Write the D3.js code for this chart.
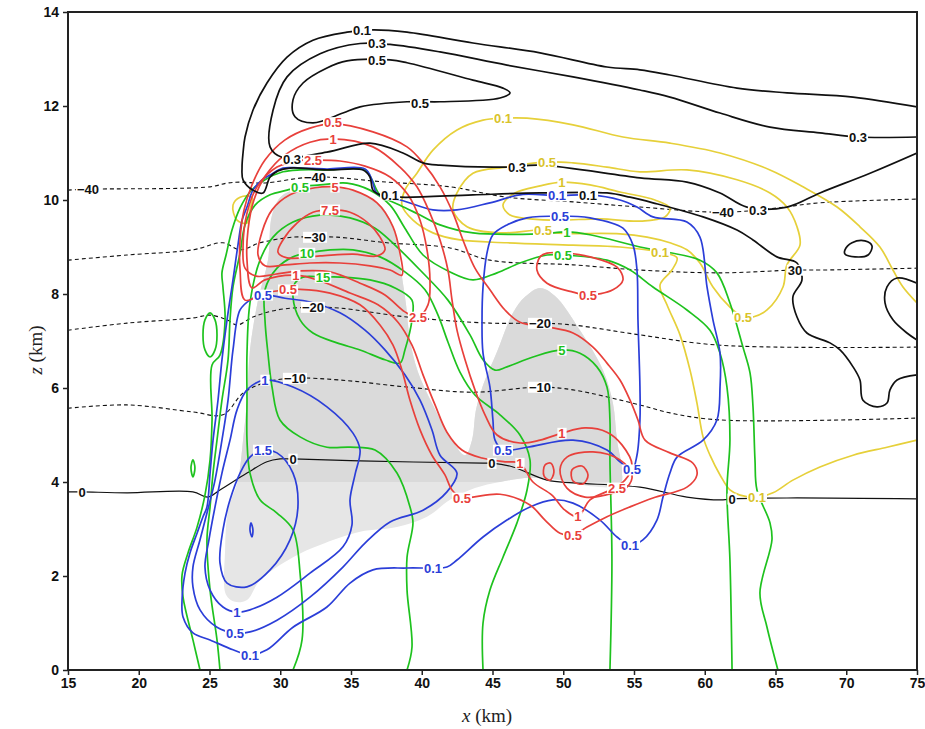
<!DOCTYPE html>
<html>
<head>
<meta charset="utf-8">
<script src="https://cdn.jsdelivr.net/npm/d3@7"></script>
<style>
  body { margin: 0; background: #fff; }
  svg { display: block; }
  .tick text { font-family: "Liberation Sans", Arial, sans-serif; font-weight: bold; font-size: 14px; fill: #111; }
</style>
</head>
<body>
<div id="chart"></div>
<script>
// axis ticks
const xTicks = [15, 20, 25, 30, 35, 40, 45, 50, 55, 60, 65, 70, 75];
const zTicks = [0, 2, 4, 6, 8, 10, 12, 14];

// shaded area (x km, z km)
const shade = [[29.42,9.68],[30.12,10.09],[31.75,10.26],[33.87,10.26],[35.78,10.13],[37.19,9.85],[38.11,9.32],[38.53,8.51],[38.89,7.77],[39.17,7.02],[39.73,6.34],[40.72,5.68],[42.0,4.96],[43.06,4.57],[43.55,4.89],[43.83,5.53],[44.33,6.06],[45.32,6.77],[46.45,7.6],[47.3,7.94],[48.36,8.13],[49.42,7.96],[51.18,7.23],[52.81,6.38],[53.51,5.68],[53.8,4.89],[54.15,4.26],[54.01,3.94],[51.89,3.91],[49.77,4.04],[47.65,4.09],[45.53,4.0],[43.76,3.87],[42.0,3.62],[40.37,3.26],[38.25,3.04],[35.64,2.94],[32.81,2.66],[30.9,2.4],[28.57,1.91],[27.65,1.49],[26.8,1.45],[26.17,1.6],[26.1,2.55],[26.31,3.4],[27.01,4.04],[27.37,4.89],[27.65,5.74],[27.86,6.81],[28.43,7.87],[29.13,8.72]];

// black solid contours
const black01 = [[75.0,11.98],[70.48,12.19],[65.81,12.28],[62.28,12.38],[57.54,12.66],[55.42,12.77],[53.09,12.83],[48.36,13.13],[43.62,13.34],[38.96,13.57],[36.55,13.62],[34.72,13.57],[32.31,13.4],[30.48,13.04],[29.06,12.49],[28.07,11.91],[27.51,11.34],[27.37,11.0],[27.3,10.7],[27.37,10.43],[28.07,10.21],[28.78,10.15],[29.28,10.49],[29.84,10.62],[30.69,10.68],[33.3,10.64],[35.85,10.64],[36.34,10.49],[36.55,10.21],[37.05,10.11],[38.46,10.06],[43.62,10.11],[48.36,10.15],[53.09,10.15],[54.72,10.06],[56.34,9.94],[59.88,9.64],[62.28,9.36],[63.41,9.15],[65.1,8.79],[66.52,8.66],[66.87,8.3],[66.23,7.94],[66.52,7.51],[67.22,7.17],[68.85,6.96],[69.56,6.81],[70.48,6.45],[70.97,6.17],[71.18,5.74],[72.17,5.6],[72.88,5.68],[73.09,5.96],[73.59,6.17],[75.0,6.28]];
const black03 = [[75.0,11.34],[70.83,11.34],[68.14,11.43],[64.61,11.55],[61.08,11.85],[57.54,12.19],[55.42,12.34],[50.69,12.62],[46.02,12.87],[41.29,13.15],[37.76,13.31],[35.64,13.33],[32.81,13.11],[30.48,12.62],[29.49,11.91],[29.28,11.13],[30.12,10.91],[33.3,11.02],[36.34,11.21],[38.67,11.0],[40.09,10.79],[41.29,10.74],[46.02,10.7],[48.36,10.74],[55.42,10.47],[58.74,10.38],[61.08,10.15],[62.98,9.85],[65.81,9.85],[68.14,10.15],[71.68,10.57],[75.0,11.0]];
const black05 = [[34.72,12.96],[37.76,12.98],[38.96,12.92],[43.62,12.55],[45.74,12.38],[46.24,12.28],[45.53,12.17],[41.29,12.09],[38.96,12.09],[35.64,11.98],[34.43,11.85],[32.31,11.64],[31.04,11.77],[30.9,12.13],[31.61,12.49],[33.3,12.81]];
const blackIsle = [[69.91,8.94],[70.41,9.09],[71.32,9.13],[71.82,9.02],[71.54,8.83],[70.62,8.79],[69.91,8.85]];
const blackEdge = [[75.0,8.23],[73.59,8.34],[72.88,8.15],[72.74,7.81],[73.3,7.45],[74.29,7.17],[75.0,7.02]];

// temperature lines
const tMinus40 = [[15.0,10.21],[16.41,10.23],[25.04,10.28],[26.24,10.36],[27.16,10.38],[28.78,10.36],[32.46,10.49],[37.54,10.38],[42.0,10.28],[46.02,10.06],[50.69,9.96],[55.42,9.85],[61.29,9.74],[65.1,9.83],[68.14,9.94],[75.0,10.02]];
const tMinus30 = [[15.0,8.72],[19.17,8.83],[23.83,8.94],[25.95,9.09],[27.16,8.94],[28.57,9.09],[30.9,9.21],[32.46,9.21],[34.01,9.21],[37.54,9.09],[42.0,8.98],[44.82,8.72],[50.69,8.62],[55.42,8.51],[61.08,8.45],[66.38,8.51],[68.14,8.51],[75.0,8.55]];
const tMinus20 = [[15.0,7.23],[19.17,7.38],[23.83,7.49],[25.04,7.55],[26.24,7.45],[26.94,7.34],[28.07,7.51],[29.77,7.66],[32.31,7.72],[34.22,7.7],[38.96,7.51],[44.82,7.38],[48.36,7.38],[50.69,7.34],[55.42,7.13],[61.08,6.91],[75.0,6.87]];
const tMinus10 = [[15.0,5.57],[19.17,5.64],[23.83,5.49],[25.95,5.43],[27.37,5.89],[29.06,6.13],[31.04,6.21],[34.22,6.17],[38.96,6.02],[43.62,5.91],[48.36,6.02],[50.69,5.96],[55.42,5.64],[57.54,5.47],[61.08,5.32],[75.0,5.36]];
const tZero = [[15.0,3.79],[15.99,3.79],[19.17,3.77],[23.83,3.79],[24.89,3.68],[25.74,3.83],[27.65,4.19],[29.06,4.43],[29.98,4.49],[30.9,4.49],[35.64,4.45],[44.33,4.4],[44.96,4.4],[46.45,4.32],[48.85,4.04],[50.69,3.98],[55.42,3.89],[58.74,3.68],[61.29,3.62],[61.93,3.64],[65.81,3.66],[75.0,3.64]];

// red contours
const red05 = [[27.51,7.87],[27.16,8.51],[27.16,9.15],[27.44,9.79],[28.0,10.32],[28.92,10.85],[30.34,11.28],[32.1,11.53],[33.73,11.62],[36.55,11.45],[38.96,11.13],[40.09,10.79],[41.29,10.28],[42.21,9.72],[42.91,9.15],[43.76,8.55],[44.82,8.09],[45.88,7.66],[46.94,7.4],[48.85,7.3],[50.69,7.17],[52.1,6.87],[53.09,6.53],[54.01,6.17],[54.72,5.74],[55.28,5.32],[55.78,4.89],[57.54,4.62],[59.17,4.4],[59.45,4.15],[58.74,3.89],[56.34,3.66],[54.72,3.47],[53.09,3.26],[51.68,3.04],[50.69,2.87],[49.77,2.91],[48.71,3.19],[47.65,3.51],[45.53,3.74],[43.62,3.68],[42.84,3.66],[42.14,3.83],[41.64,4.15],[40.72,4.57],[39.88,5.11],[39.17,5.74],[38.6,6.38],[37.97,6.91],[37.05,7.34],[35.64,7.77],[33.52,8.02],[31.4,8.1],[30.55,8.09],[28.92,8.02]];
const red1 = [[28.0,8.13],[27.65,8.72],[27.72,9.36],[28.14,10.0],[28.99,10.53],[30.34,10.96],[32.1,11.23],[33.73,11.3],[36.55,11.13],[38.46,10.7],[39.66,10.28],[40.58,9.72],[41.29,9.15],[41.85,8.51],[42.14,7.87],[42.49,7.23],[43.06,6.6],[43.76,5.96],[44.47,5.43],[45.32,5.0],[46.94,4.83],[48.36,4.89],[49.91,5.04],[51.54,5.15],[53.09,5.06],[54.15,4.79],[54.86,4.36],[54.36,4.04],[53.3,3.83],[51.89,3.62],[51.04,3.26],[50.12,3.4],[49.2,3.72],[47.86,4.0],[46.94,4.4],[45.88,4.43],[44.26,4.51],[42.84,4.68],[41.78,5.06],[40.94,5.64],[40.09,6.28],[39.31,6.91],[38.32,7.4],[36.91,7.77],[34.93,8.02],[32.81,8.28],[31.1,8.4],[28.92,8.3]];
const red25 = [[32.31,10.85],[34.22,10.83],[35.99,10.72],[37.76,10.49],[39.03,10.11],[39.88,9.57],[40.37,8.94],[40.58,8.3],[40.44,7.77],[39.73,7.51],[38.81,7.62],[37.4,7.98],[35.64,8.23],[33.52,8.47],[31.4,8.49],[29.63,8.42],[28.29,8.38],[27.51,8.55],[27.37,9.0],[27.65,9.72],[28.36,10.28],[29.77,10.7],[31.61,10.85]];
const red5 = [[33.87,10.28],[35.14,10.21],[36.84,9.94],[37.97,9.43],[38.46,8.87],[38.6,8.4],[37.76,8.51],[36.34,8.6],[34.22,8.66],[32.1,8.66],[30.34,8.62],[28.92,8.6],[28.43,8.83],[28.71,9.32],[29.42,9.79],[30.69,10.11],[32.46,10.26]];
const red75 = [[33.52,9.79],[32.31,9.74],[31.18,9.51],[30.19,9.15],[29.84,8.89],[30.48,8.77],[32.81,8.81],[35.14,8.85],[36.84,8.81],[37.4,8.94],[37.05,9.21],[36.13,9.53],[34.93,9.74]];
const red05b = [[48.85,8.87],[50.26,8.87],[51.89,8.79],[53.8,8.57],[54.22,8.3],[53.51,8.09],[51.75,7.98],[50.69,8.04],[48.85,8.23],[48.14,8.51],[48.36,8.79]];
const red25b = [[49.77,4.26],[50.26,4.53],[52.1,4.64],[54.01,4.47],[54.86,4.15],[54.5,3.89],[52.95,3.72],[51.54,3.68],[50.26,3.87]];
const redDotA = [[48.71,4.36],[49.13,4.4],[49.34,4.21],[49.06,4.04],[48.64,4.13]];
const redDotB = [[50.62,4.26],[51.32,4.34],[51.75,4.15],[51.4,3.96],[50.69,4.02]];

// green contours
const green1 = [[24.33,0.0],[23.83,0.64],[23.13,1.55],[23.06,2.02],[23.48,2.49],[24.12,3.04],[24.68,3.72],[25.04,4.47],[25.18,5.32],[25.18,6.49],[25.74,6.7],[26.1,7.45],[25.95,8.15],[25.88,8.45],[26.17,8.83],[26.59,9.36],[27.16,9.83],[27.86,10.17],[28.92,10.43],[30.19,10.6],[31.4,10.64],[33.3,10.64],[35.99,10.64],[36.48,10.43],[37.05,10.11],[38.46,9.89],[39.88,9.68],[41.29,9.47],[43.62,9.3],[48.36,9.28],[50.26,9.32],[51.89,9.26],[55.42,9.0],[59.66,8.72],[60.86,8.45],[61.78,7.81],[62.7,6.87],[63.2,6.32],[63.41,5.6],[63.55,4.47],[63.69,3.83],[64.61,3.13],[64.75,2.77],[63.9,1.64],[64.4,0.91],[65.17,0.0]];
const green05 = [[25.74,0.0],[25.53,0.64],[25.04,1.7],[24.82,2.77],[25.04,3.47],[25.25,4.19],[25.53,4.89],[25.88,5.74],[26.31,6.6],[26.45,7.45],[26.66,8.15],[27.16,8.87],[27.51,9.47],[28.22,9.89],[29.28,10.11],[30.48,10.21],[31.4,10.28],[32.81,10.32],[34.72,10.36],[36.34,10.21],[37.76,9.89],[38.81,9.4],[40.09,8.83],[42.0,8.47],[43.62,8.3],[45.32,8.45],[46.94,8.66],[48.85,8.83],[49.98,8.83],[53.09,8.72],[54.72,8.51],[56.34,8.15],[58.74,7.66],[60.37,7.23],[61.08,6.74],[61.57,6.02],[61.78,4.89],[61.57,3.83],[61.78,2.34],[61.93,0.0]];
const green5 = [[30.9,0.0],[31.54,0.64],[31.4,2.06],[30.9,2.98],[29.77,3.34],[28.57,3.62],[27.86,4.19],[27.65,4.89],[27.65,5.74],[27.65,6.74],[27.86,7.81],[28.57,8.72],[29.49,9.21],[30.9,9.53],[32.81,9.68],[34.93,9.62],[36.7,9.4],[38.11,9.04],[39.88,8.51],[41.85,7.87],[43.41,7.13],[44.33,6.6],[45.18,6.38],[46.02,6.45],[47.86,6.66],[49.91,6.81],[51.18,6.74],[52.38,6.45],[53.09,6.02],[53.3,5.32],[53.3,4.47],[53.44,2.34],[53.3,0.0]];
const green10 = [[38.96,0.0],[39.31,0.49],[38.96,1.7],[38.96,2.4],[39.38,3.13],[39.17,3.47],[38.25,4.19],[36.7,4.68],[34.93,4.74],[33.3,4.74],[31.4,4.96],[29.98,5.32],[29.42,6.02],[29.13,6.74],[28.92,7.45],[28.92,8.09],[29.77,8.55],[30.9,8.79],[31.89,8.87],[33.52,8.94],[35.14,8.94],[37.05,8.79],[38.81,8.47],[40.23,8.09],[41.15,7.55],[41.85,6.98],[42.7,6.34],[43.76,5.85],[45.53,5.43],[46.94,5.0],[47.65,4.47],[47.44,3.83],[46.73,3.13],[45.74,2.4],[44.82,1.7],[44.33,1.0],[44.33,0.0]];
const green15 = [[31.61,8.36],[33.02,8.36],[34.22,8.36],[36.34,8.3],[38.11,8.13],[39.31,7.87],[39.31,7.45],[38.81,6.81],[38.46,6.53],[37.4,6.6],[35.64,6.81],[34.01,6.96],[32.31,7.17],[31.4,7.45],[30.9,7.94],[31.04,8.23]];
const greenCell = [[25.04,7.6],[25.39,7.45],[25.53,7.13],[25.39,6.81],[25.04,6.66],[24.68,6.81],[24.54,7.13],[24.68,7.45]];
const greenDot = [[23.83,4.47],[23.97,4.3],[23.83,4.11],[23.69,4.3]];

// blue contours
const blue01 = [[24.54,3.26],[24.82,3.47],[25.04,4.19],[25.25,4.89],[25.6,5.74],[25.88,6.6],[26.24,7.45],[26.66,8.3],[27.01,9.04],[27.3,9.57],[27.65,9.85],[28.07,10.21],[28.71,10.43],[29.28,10.53],[30.19,10.68],[31.4,10.68],[33.3,10.66],[35.99,10.66],[36.48,10.43],[36.77,10.17],[37.4,10.04],[38.46,10.0],[40.79,9.79],[42.49,9.79],[44.82,9.94],[47.15,10.12],[49.56,10.09],[51.89,10.11],[54.01,10.0],[55.21,9.85],[56.34,9.64],[58.74,9.53],[59.66,9.21],[60.16,8.15],[60.58,7.45],[61.08,6.74],[61.08,6.02],[60.86,5.32],[59.88,4.89],[58.04,4.53],[57.54,4.19],[57.05,3.68],[56.62,3.19],[55.63,2.77],[54.72,2.66],[53.8,2.83],[52.6,3.19],[50.69,3.55],[49.27,3.62],[47.65,3.47],[46.02,3.19],[44.33,2.83],[42.49,2.34],[41.78,2.19],[40.79,2.17],[38.96,2.17],[36.55,2.13],[34.93,1.85],[33.3,1.34],[30.9,0.91],[29.06,0.43],[27.86,0.32],[26.66,0.43],[25.04,0.64],[23.83,0.79],[23.13,1.13],[23.06,1.49],[23.27,2.06],[23.62,2.49],[24.12,2.91]];
const blue05 = [[26.8,0.79],[27.86,0.81],[29.77,1.06],[32.1,1.55],[34.43,2.19],[35.99,2.7],[37.76,3.15],[40.09,3.4],[41.78,3.79],[42.49,4.19],[41.29,4.57],[40.72,5.11],[39.88,5.74],[38.81,6.28],[37.4,6.81],[35.99,7.23],[34.22,7.6],[32.1,7.83],[30.34,7.91],[28.78,7.98],[27.86,7.87],[27.16,7.66],[26.66,6.81],[26.31,5.74],[25.88,4.89],[25.39,4.04],[24.82,3.34],[24.33,2.77],[23.83,2.19],[23.83,1.77],[24.33,1.28],[25.53,0.91]];
const blue1 = [[26.94,1.23],[27.86,1.28],[29.77,1.55],[32.1,2.06],[34.43,2.62],[35.07,3.09],[34.93,3.62],[35.28,4.15],[35.64,4.68],[35.14,5.04],[33.3,5.6],[30.9,6.02],[28.92,6.17],[27.65,5.96],[26.94,5.53],[26.45,4.89],[25.88,4.19],[25.39,3.47],[24.96,2.77],[24.68,2.19],[25.04,1.7],[25.95,1.34]];
const blue15 = [[28.78,4.68],[29.77,4.62],[30.9,4.19],[31.25,3.47],[30.69,2.77],[29.28,2.13],[27.65,1.77],[26.24,1.85],[25.74,2.28],[25.95,2.98],[26.45,3.62],[27.16,4.19],[27.86,4.53]];
const blueDot = [[27.93,3.13],[28.07,2.98],[28.0,2.83],[27.86,2.98]];
const blue05b = [[46.02,9.47],[47.44,9.62],[49.77,9.66],[51.89,9.62],[54.22,9.4],[54.93,9.04],[55.21,8.51],[55.28,7.45],[55.42,6.02],[55.42,5.32],[55.21,4.57],[54.86,4.26],[54.01,4.43],[53.09,4.68],[50.69,4.89],[47.44,4.74],[45.74,4.68],[45.18,4.89],[45.03,5.32],[44.82,6.02],[44.33,6.74],[44.26,7.45],[44.33,8.15],[44.61,8.87],[45.03,9.26]];

// yellow contours
const yellow01 = [[75.0,4.89],[72.88,4.74],[70.48,4.57],[68.14,4.32],[66.23,4.04],[64.82,3.77],[63.69,3.68],[62.49,3.72],[61.78,3.83],[61.08,4.15],[60.37,4.57],[59.88,4.96],[59.45,5.68],[58.96,6.38],[58.25,7.13],[57.33,7.77],[56.84,8.19],[57.68,8.51],[58.04,8.77],[56.84,8.89],[54.01,9.0],[50.69,9.04],[46.02,9.09],[42.7,9.15],[40.79,9.3],[39.38,9.57],[38.6,9.89],[38.81,10.21],[39.66,10.57],[40.79,11.06],[42.49,11.49],[44.33,11.7],[45.74,11.74],[47.44,11.74],[50.69,11.6],[54.22,11.34],[57.54,11.21],[61.08,11.0],[64.61,10.64],[66.94,10.28],[69.35,9.85],[70.97,9.43],[72.38,9.0],[73.3,8.51],[74.01,8.15],[75.0,7.81]];
const yellow05 = [[42.49,10.15],[43.62,10.57],[46.02,10.7],[48.85,10.81],[50.69,10.79],[53.09,10.7],[55.42,10.6],[58.74,10.64],[62.28,10.43],[64.61,10.15],[65.81,9.85],[66.52,9.43],[66.73,9.04],[65.81,8.62],[65.53,8.15],[64.4,7.66],[63.41,7.51],[62.7,7.51],[61.78,7.72],[60.58,8.15],[59.66,8.66],[58.74,8.94],[57.54,9.09],[55.92,9.21],[54.01,9.28],[49.42,9.3],[48.57,9.36],[45.53,9.3],[43.2,9.43],[42.21,9.79]];
const yellow1 = [[45.74,9.89],[46.59,10.15],[48.36,10.3],[49.91,10.38],[51.89,10.32],[54.01,10.17],[56.48,10.0],[57.54,9.83],[57.19,9.64],[55.42,9.55],[52.6,9.6],[49.77,9.57],[47.65,9.6],[46.24,9.68]];
const yellowBit = [[27.16,10.06],[28.0,10.06],[27.86,9.79],[27.65,9.51],[26.94,9.57],[26.66,9.89]];

// contour labels: [text, x km, z km]
const blackLabels = [["0.1",35.78,13.62],["0.3",36.84,13.33],["0.5",36.84,12.97],["0.5",39.88,12.06],["0.3",70.83,11.34],["0.3",30.83,10.87],["0.3",46.73,10.7],["0.1",37.76,10.11],["0.1",51.75,10.11],["0.3",63.76,9.79]];
const tempLabels = [["\u221240",16.41,10.23],["\u221240",32.46,10.49],["\u221240",61.29,9.74],["\u221230",32.46,9.21],["30",66.38,8.51],["\u221220",32.31,7.72],["\u221220",48.36,7.38],["\u221210",31.04,6.21],["\u221210",48.36,6.02],["0",15.99,3.79],["0",30.9,4.49],["0",44.96,4.4],["0",61.93,3.64]];
const redLabels = [["0.5",33.73,11.65],["1",33.73,11.3],["2.5",32.31,10.85],["5",33.87,10.28],["7.5",33.52,9.79],["1",31.1,8.4],["0.5",30.55,8.09],["2.5",39.73,7.51],["0.5",51.75,7.98],["1",49.91,5.04],["1",46.94,4.4],["0.5",42.84,3.66],["1",51.04,3.26],["0.5",50.69,2.87],["2.5",53.8,3.87]];
const greenLabels = [["0.5",31.4,10.28],["10",31.89,8.87],["15",33.02,8.36],["1",50.26,9.32],["0.5",49.98,8.83],["5",49.91,6.81]];
const blueLabels = [["0.1",49.56,10.09],["0.5",49.77,9.66],["0.5",28.78,7.98],["1",28.92,6.17],["1.5",28.78,4.68],["0.5",45.74,4.68],["0.5",54.86,4.26],["0.1",54.72,2.66],["0.1",40.79,2.17],["1",26.94,1.23],["0.5",26.8,0.79],["0.1",27.86,0.32]];
const yellowLabels = [["0.1",45.74,11.74],["0.5",48.85,10.81],["1",49.91,10.38],["0.5",48.57,9.36],["0.1",56.84,8.89],["0.5",62.7,7.51],["0.1",63.69,3.68]];

const RED = "#e8403b", GREEN = "#1ec21e", BLUE = "#2b3ed8", YELLOW = "#e6d03a", BLACK = "#111";

const width = 925, height = 729;
const x = d3.scaleLinear().domain([15, 75]).range([68, 917]);
const y = d3.scaleLinear().domain([0, 14]).range([670, 12]);

const svg = d3.select("#chart").append("svg")
  .attr("width", width)
  .attr("height", height)
  .style("background", "#fff");

svg.append("defs").append("clipPath").attr("id", "plot")
  .append("rect")
  .attr("x", x(15)).attr("y", y(14))
  .attr("width", x(75) - x(15)).attr("height", y(0) - y(14));
svg.select("defs").append("clipPath").attr("id", "upper")
  .append("rect")
  .attr("x", x(15)).attr("y", y(14))
  .attr("width", x(75) - x(15)).attr("height", y(4) - y(14));

const g = svg.append("g").attr("clip-path", "url(#plot)");

const open = d3.line().x(d => x(d[0])).y(d => y(d[1])).curve(d3.curveCatmullRom.alpha(0.5));
const closed = d3.line().x(d => x(d[0])).y(d => y(d[1])).curve(d3.curveCatmullRomClosed.alpha(0.5));

// shaded area, slightly darker above 4 km
g.append("path").attr("d", closed(shade)).attr("fill", "#e6e6e6");
g.append("path").attr("d", closed(shade)).attr("fill", "#dadada").attr("clip-path", "url(#upper)");

const lines = [
  { pts: tMinus40, color: BLACK, dash: "4,3", w: 1.1 },
  { pts: tMinus30, color: BLACK, dash: "4,3", w: 1.1 },
  { pts: tMinus20, color: BLACK, dash: "4,3", w: 1.1 },
  { pts: tMinus10, color: BLACK, dash: "4,3", w: 1.1 },
  { pts: tZero, color: BLACK, w: 1.2 },
  { pts: yellow01, color: YELLOW }, { pts: yellow05, color: YELLOW, closed: true },
  { pts: yellow1, color: YELLOW, closed: true }, { pts: yellowBit, color: YELLOW, closed: true },
  { pts: green1, color: GREEN }, { pts: green05, color: GREEN }, { pts: green5, color: GREEN },
  { pts: green10, color: GREEN }, { pts: green15, color: GREEN, closed: true },
  { pts: greenCell, color: GREEN, closed: true }, { pts: greenDot, color: GREEN, closed: true },
  { pts: blue01, color: BLUE, closed: true }, { pts: blue05, color: BLUE, closed: true },
  { pts: blue1, color: BLUE, closed: true }, { pts: blue15, color: BLUE, closed: true },
  { pts: blueDot, color: BLUE, closed: true }, { pts: blue05b, color: BLUE, closed: true },
  { pts: red05, color: RED, closed: true }, { pts: red1, color: RED, closed: true },
  { pts: red25, color: RED, closed: true }, { pts: red5, color: RED, closed: true },
  { pts: red75, color: RED, closed: true }, { pts: red05b, color: RED, closed: true },
  { pts: red25b, color: RED, closed: true }, { pts: redDotA, color: RED, closed: true },
  { pts: redDotB, color: RED, closed: true },
  { pts: black01, color: BLACK }, { pts: black03, color: BLACK },
  { pts: black05, color: BLACK, closed: true }, { pts: blackIsle, color: BLACK, closed: true },
  { pts: blackEdge, color: BLACK }
];

g.selectAll("path.contour")
  .data(lines)
  .enter()
  .append("path")
  .attr("class", "contour")
  .attr("d", d => (d.closed ? closed : open)(d.pts))
  .attr("fill", "none")
  .attr("stroke", d => d.color)
  .attr("stroke-width", d => d.w || 1.7)
  .attr("stroke-dasharray", d => d.dash || null)
  .attr("stroke-linejoin", "round");

// contour labels with white boxes
function addLabels(list, color) {
  list.forEach(([txt, lx, lz]) => {
    const lg = svg.append("g").attr("transform", `translate(${x(lx)},${y(lz)})`);
    const t = lg.append("text")
      .attr("text-anchor", "middle")
      .attr("dy", "0.36em")
      .style("font-family", "'Liberation Sans', Arial, sans-serif")
      .style("font-size", "13px")
      .style("font-weight", "bold")
      .attr("fill", color)
      .text(txt);
    const b = t.node().getBBox();
    lg.insert("rect", "text")
      .attr("x", b.x - 1).attr("y", b.y + 2)
      .attr("width", b.width + 2).attr("height", b.height - 4)
      .attr("fill", "#fff");
  });
}
addLabels(tempLabels, BLACK);
addLabels(yellowLabels, "#d9c32a");
addLabels(greenLabels, GREEN);
addLabels(blueLabels, BLUE);
addLabels(redLabels, RED);
addLabels(blackLabels, BLACK);

// frame
svg.append("rect")
  .attr("x", x(15)).attr("y", y(14))
  .attr("width", x(75) - x(15)).attr("height", y(0) - y(14))
  .attr("fill", "none").attr("stroke", "#222").attr("stroke-width", 2);

// axes
const xAxis = svg.append("g").attr("transform", `translate(0,${y(0)})`)
  .call(d3.axisBottom(x).tickValues(xTicks).tickSize(5).tickPadding(3).tickFormat(d3.format("d")));
xAxis.select(".domain").remove();
xAxis.selectAll("line").attr("stroke", "#222").attr("stroke-width", 1.5);

const yAxis = svg.append("g").attr("transform", `translate(${x(15)},0)`)
  .call(d3.axisLeft(y).tickValues(zTicks).tickSize(5).tickPadding(4).tickFormat(d3.format("d")));
yAxis.select(".domain").remove();
yAxis.selectAll("line").attr("stroke", "#222").attr("stroke-width", 1.5);

// axis titles
const xt = svg.append("text")
  .attr("x", 487).attr("y", 722)
  .attr("text-anchor", "middle")
  .style("font-family", "'Liberation Serif', 'Times New Roman', serif")
  .style("font-size", "19px")
  .attr("fill", "#222");
xt.append("tspan").style("font-style", "italic").text("x");
xt.append("tspan").text(" (km)");

const zt = svg.append("text")
  .attr("transform", "translate(42,350) rotate(-90)")
  .attr("text-anchor", "middle")
  .style("font-family", "'Liberation Serif', 'Times New Roman', serif")
  .style("font-size", "19px")
  .attr("fill", "#222");
zt.append("tspan").style("font-style", "italic").text("z");
zt.append("tspan").text(" (km)");
</script>
</body>
</html>
